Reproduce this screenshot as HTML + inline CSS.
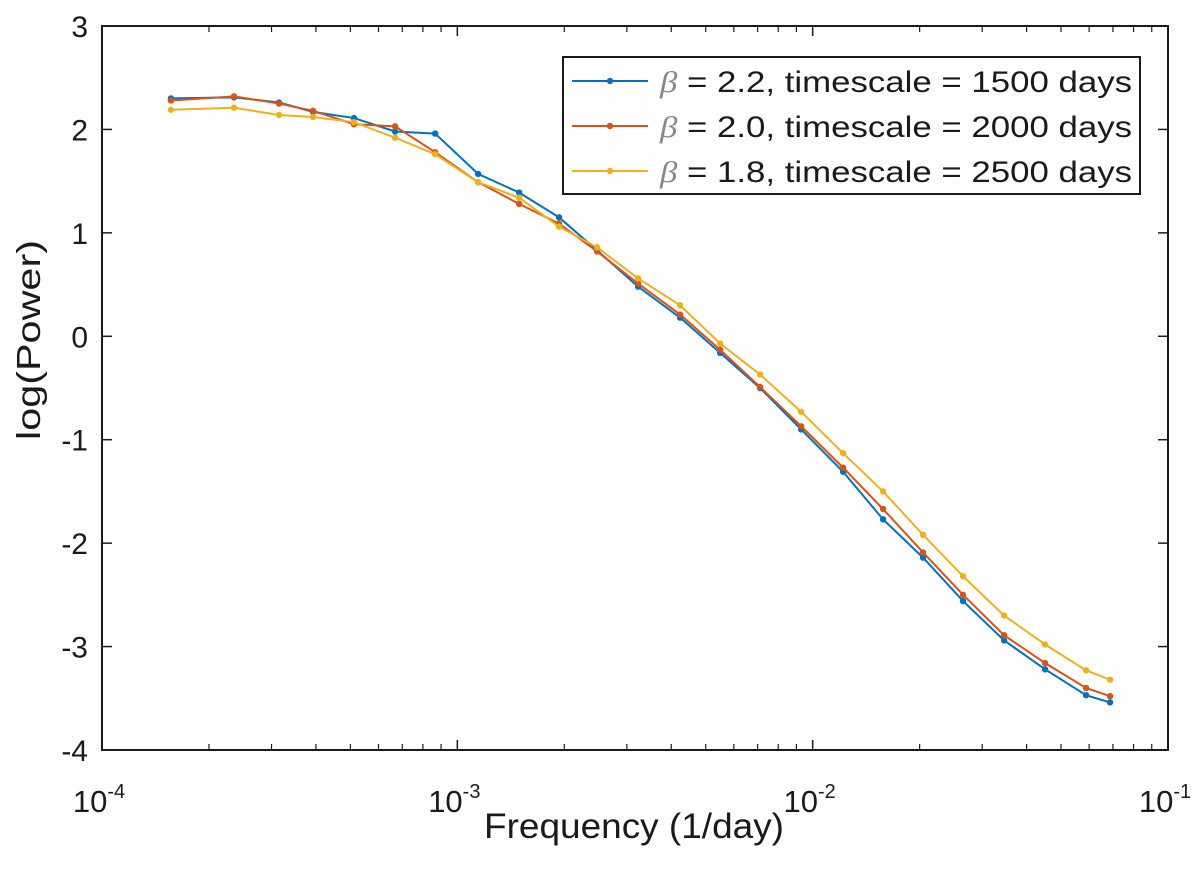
<!DOCTYPE html>
<html><head><meta charset="utf-8"><style>
html,body{margin:0;padding:0;background:#fff;}
svg text{font-family:"Liberation Sans",sans-serif;fill:#1a1a1a;}
</style></head><body>
<svg id="chart" width="1200" height="870" xmlns="http://www.w3.org/2000/svg">
<g id="grid"></g>
<g id="series"></g>
<g id="axes"></g>
<g id="legend"></g>
</svg>
<script>
const freqs=[1.563e-4,2.352e-4,3.149e-4,3.926e-4,5.12e-4,6.68e-4,8.66e-4,1.144e-3,1.492e-3,1.933e-3,2.474e-3,3.226e-3,4.235e-3,5.49e-3,7.11e-3,9.28e-3,1.218e-2,1.578e-2,2.045e-2,2.65e-2,3.457e-2,4.51e-2,5.88e-2,6.87e-2];
const blueVals=[2.30,2.31,2.26,2.17,2.11,1.98,1.96,1.57,1.39,1.15,0.83,0.48,0.18,-0.16,-0.50,-0.90,-1.31,-1.77,-2.14,-2.56,-2.94,-3.22,-3.47,-3.54];
const redVals=[2.28,2.32,2.25,2.18,2.05,2.03,1.78,1.49,1.28,1.09,0.82,0.51,0.21,-0.13,-0.49,-0.87,-1.27,-1.67,-2.09,-2.50,-2.89,-3.16,-3.40,-3.48];
const yellowVals=[2.19,2.21,2.14,2.12,2.07,1.92,1.76,1.49,1.34,1.06,0.86,0.56,0.30,-0.07,-0.37,-0.73,-1.13,-1.50,-1.92,-2.32,-2.70,-2.98,-3.23,-3.32];
const seriesNames=["β = 2.2, timescale = 1500 days","β = 2.0, timescale = 2000 days","β = 1.8, timescale = 2500 days"];
const yTicks=[3,2,1,0,-1,-2,-3,-4];
const xTickExps=[-4,-3,-2,-1];

const L=102,R=1168,T=26,B=750;
const xScale=f=>L+(Math.log10(f)+4)/3*(R-L);
const yScale=v=>T+(3-v)/7*(B-T);
const NS="http://www.w3.org/2000/svg";
function mk(tag,attrs,parent){const e=document.createElementNS(NS,tag);for(const k in attrs)e.setAttribute(k,attrs[k]);parent.appendChild(e);return e;}
const axes=document.getElementById('axes');
const ser=document.getElementById('series');
const leg=document.getElementById('legend');

const box=mk('rect',{x:L,y:T,width:R-L,height:B-T,fill:'none',stroke:'#1a1a1a','stroke-width':2},axes);



yTicks.forEach(v=>{
 const y=yScale(v);
 mk('line',{x1:L,x2:L+10,y1:y,y2:y,stroke:'#1a1a1a','stroke-width':1.5},axes);
 mk('line',{x1:R-10,x2:R,y1:y,y2:y,stroke:'#1a1a1a','stroke-width':1.5},axes);
 const t=mk('text',{x:L-14,y:y+11,'text-anchor':'end','font-size':30},axes);
 t.textContent=String(v);
 
 
});
xTickExps.forEach(e=>{
 const x=xScale(Math.pow(10,e));
 mk('line',{x1:x,x2:x,y1:B,y2:B-10,stroke:'#1a1a1a','stroke-width':1.5},axes);
 mk('line',{x1:x,x2:x,y1:T,y2:T+10,stroke:'#1a1a1a','stroke-width':1.5},axes);
 if(e<-1){for(let m=2;m<10;m++){const xm=xScale(m*Math.pow(10,e));
  mk('line',{x1:xm,x2:xm,y1:B,y2:B-6,stroke:'#1a1a1a','stroke-width':1.2},axes);
  mk('line',{x1:xm,x2:xm,y1:T,y2:T+6,stroke:'#1a1a1a','stroke-width':1.2},axes);}}
 const t=mk('text',{x:x-3,y:B+62,'text-anchor':'middle','font-size':31},axes);
 t.textContent='10';
 const s=mk('tspan',{dy:-14,'font-size':20},t);
 s.textContent=String(e);
 
 
});
const xt=mk('text',{x:634,y:838,'text-anchor':'middle','font-size':35,textLength:300,lengthAdjust:'spacingAndGlyphs'},axes);
xt.textContent='Frequency (1/day)';


const yt=mk('text',{x:0,y:0,'text-anchor':'middle','font-size':33,textLength:200,lengthAdjust:'spacingAndGlyphs',transform:`translate(40,340) rotate(-90)`},axes);
yt.textContent='log(Power)';



const colors=['#0072BD','#D95319','#EDB120'];
[blueVals,redVals,yellowVals].forEach((vals,i)=>{
 const g=mk('g',{},ser);
 
 
 const pts=vals.map((v,j)=>xScale(freqs[j])+','+yScale(v)).join(' ');
 mk('polyline',{points:pts,fill:'none',stroke:colors[i],'stroke-width':2},g);
 vals.forEach((v,j)=>{
  const c=mk('circle',{cx:xScale(freqs[j]),cy:yScale(v),r:3.2,fill:colors[i]},g);
  
  
 });
});

const lb=mk('rect',{x:563,y:57,width:577,height:137,fill:'#fff',stroke:'#1a1a1a','stroke-width':2},leg);


seriesNames.forEach((n,i)=>{
 const y=81+i*45;
 const g=mk('g',{},leg);
 
 
 mk('line',{x1:572,x2:648,y1:y,y2:y,stroke:colors[i],'stroke-width':2},g);
 mk('circle',{cx:610,cy:y,r:3.2,fill:colors[i]},g);
 const t=mk('text',{x:660,y:y+11,'font-size':30,textLength:472,lengthAdjust:'spacingAndGlyphs'},g);
 const b=mk('tspan',{'font-family':'Liberation Serif, serif','font-style':'italic',fill:'#888'},t);
 b.textContent='β';
 const r=mk('tspan',{},t);
 r.textContent=n.slice(1);
});
</script>
</body></html>
